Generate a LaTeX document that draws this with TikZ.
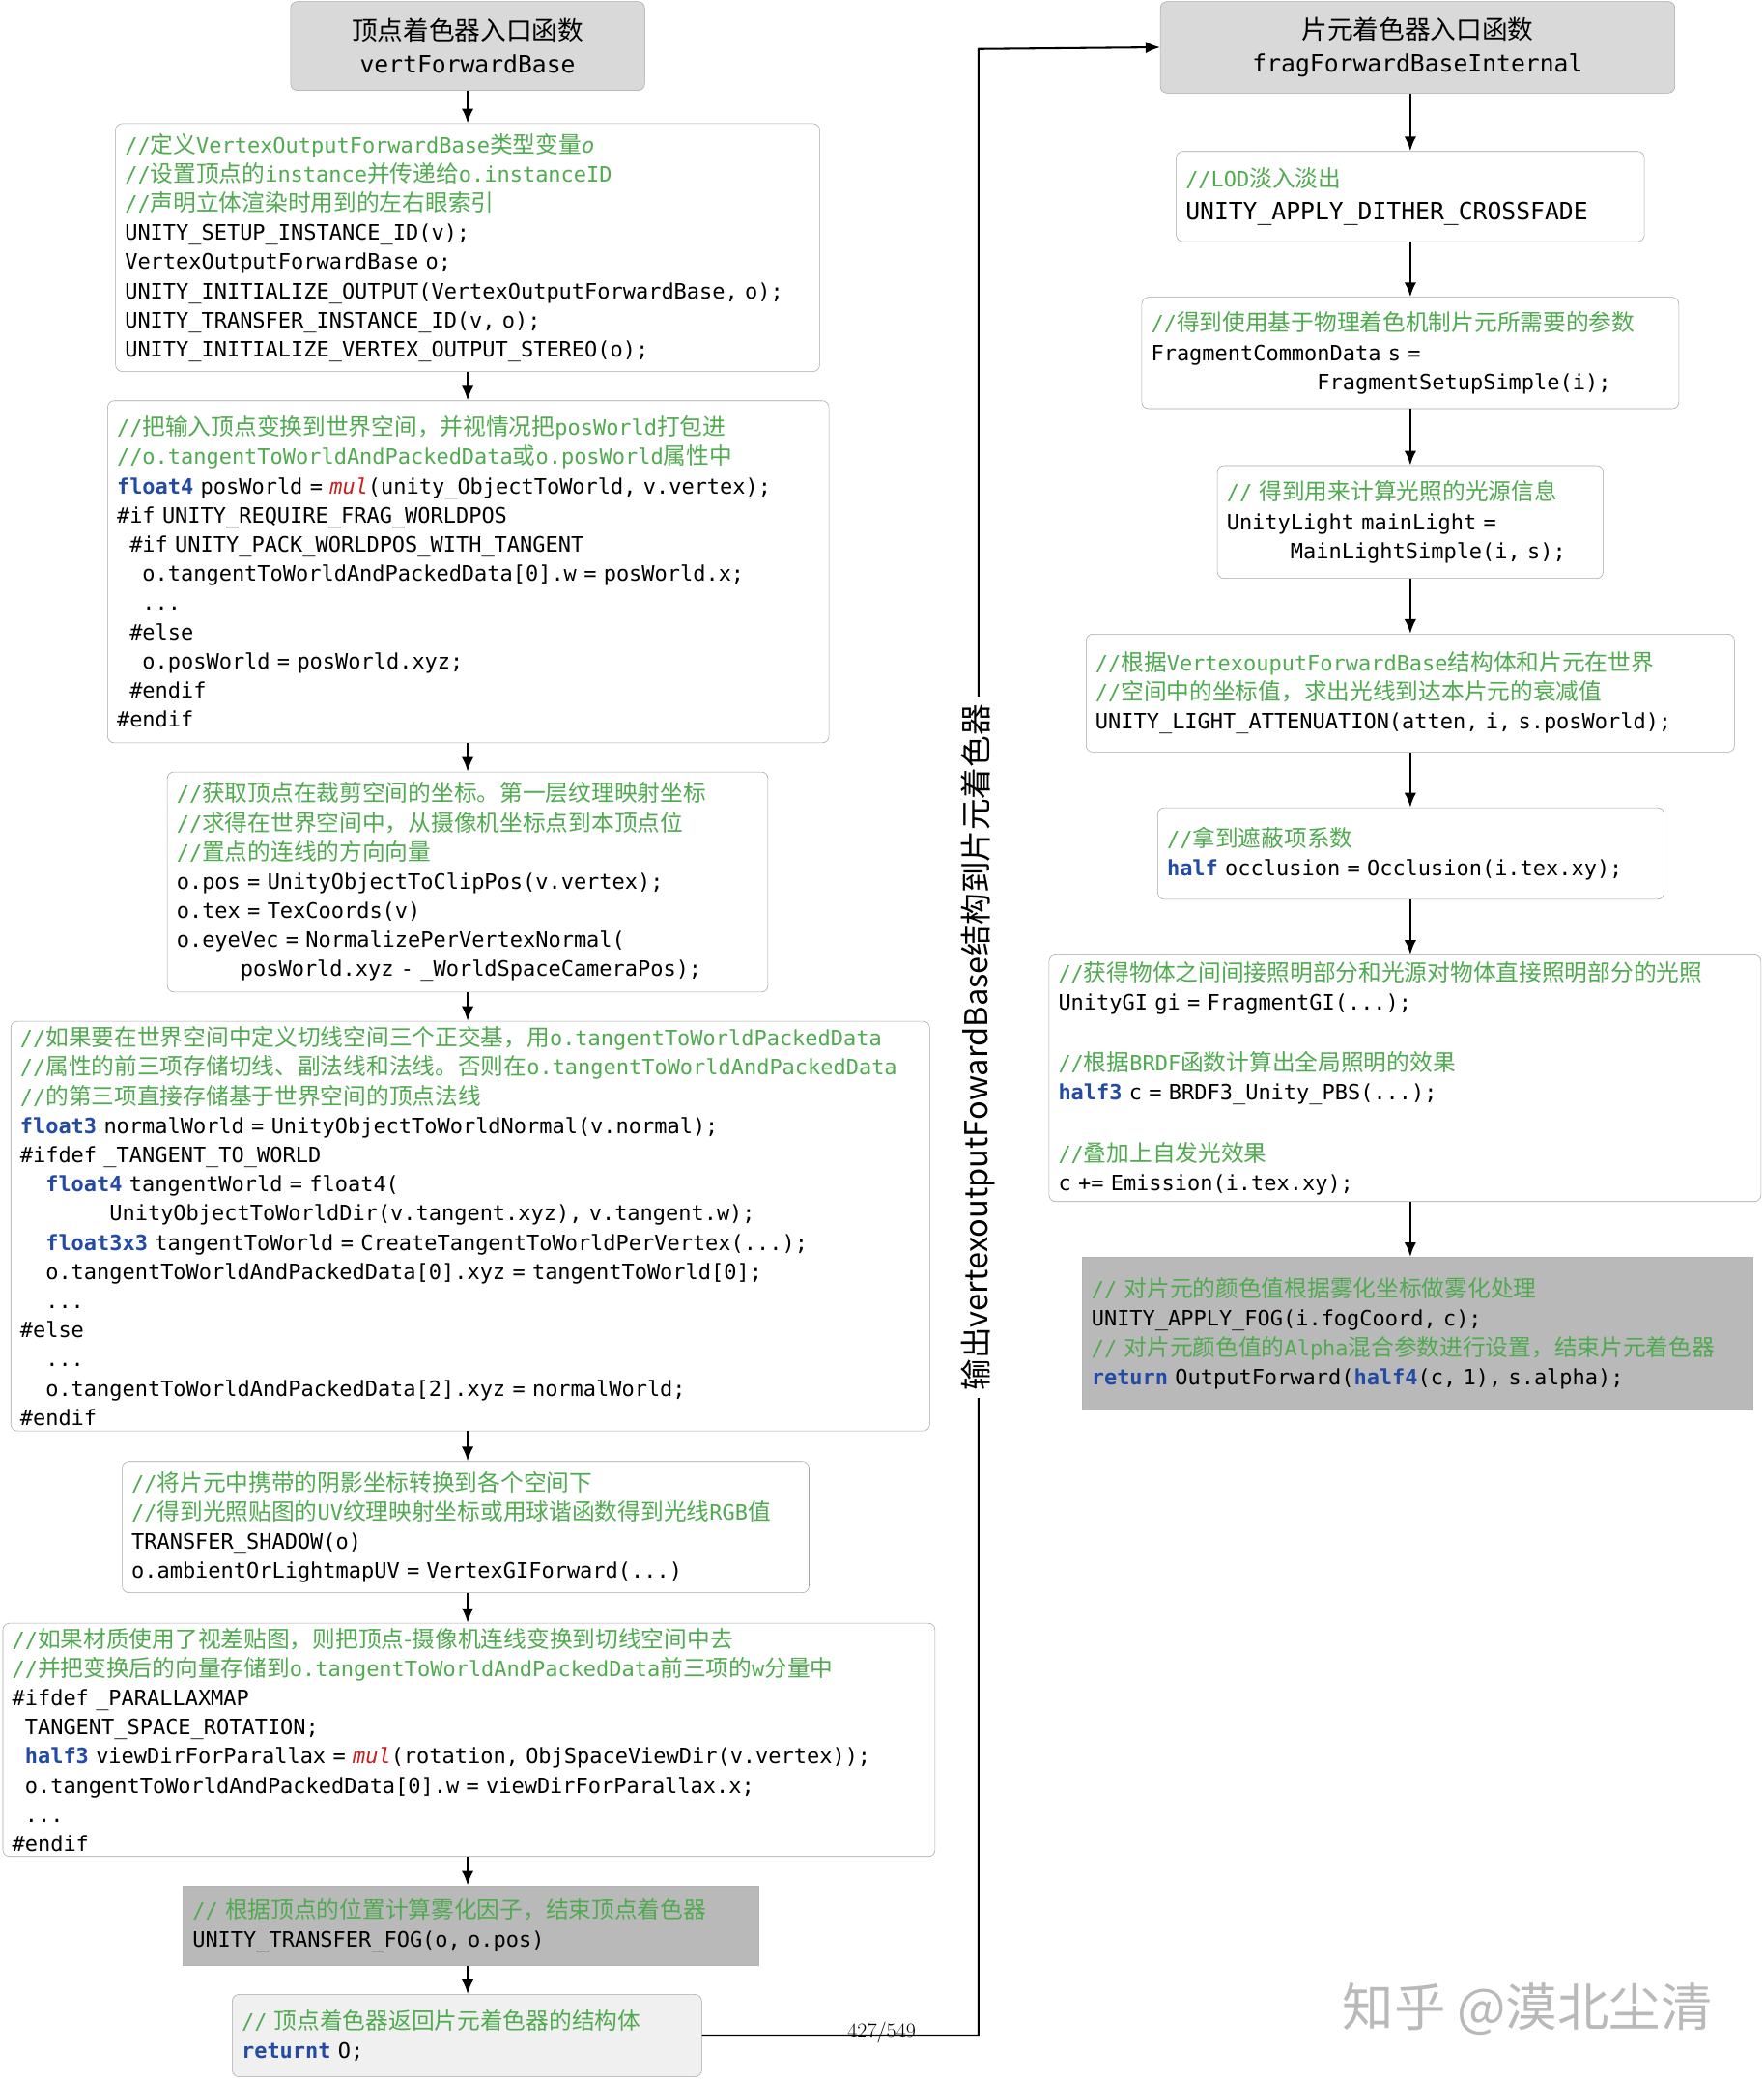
\documentclass[tikz,border=0pt]{standalone}
\usepackage{fontspec}
\setmonofont{DejaVu Sans Mono}
\newfontfamily\cjk[Scale=1.08]{Noto Sans CJK SC}
\usetikzlibrary{arrows.meta, positioning}
\definecolor{cmt}{RGB}{80,170,80}
\definecolor{kwd}{RGB}{35,75,165}
\definecolor{fnred}{RGB}{200,30,30}
\newcommand\zh[1]{{\cjk #1}}
\newcommand\cm[1]{{\color{cmt}#1}}
\newcommand\kw[1]{{\color{kwd}\bfseries #1}}
\newcommand\rd[1]{{\color{fnred}\itshape #1}}
\newcommand\ind[1]{\hspace*{#1\dimexpr 0.602em\relax}}
\tikzset{
  box/.style n args={2}{draw=gray!70, rounded corners=5pt, fill=white, align=left,
    minimum width=#1pt, minimum height=#2pt, text width={\dimexpr #1pt-14pt\relax},
    inner xsep=7pt, inner ysep=0pt, anchor=north west, font=\ttfamily\fontsize{16}{22}\selectfont},
  head/.style={draw=gray!70, rounded corners=5pt, fill=gray!30, align=center, anchor=north west,
    font=\ttfamily\fontsize{18}{25}\selectfont},
  dark/.style={sharp corners, fill=gray!55, draw=gray!60},
  arr/.style={-{Latex[length=11pt,width=9pt]}, line width=1.8pt}
}
\begin{document}
\begin{tikzpicture}[x=1pt,y=-1pt]
\useasboundingbox (0,0) rectangle (1330,1568);
% vertex shader column
\node[head, minimum width=267pt, minimum height=67pt] (t1) at (219,1) {\zh{顶点着色器入口函数}\\vertForwardBase};
\node[box={531}{187}] (b1) at (87,93) {%
\cm{//\zh{定义}VertexOutputForwardBase\zh{类型变量}\textit{o}}\\
\cm{//\zh{设置顶点的}instance\zh{并传递给}o.instanceID}\\
\cm{//\zh{声明立体渲染时用到的左右眼索引}}\\
UNITY\_SETUP\_INSTANCE\_ID(v);\\
VertexOutputForwardBase o;\\
UNITY\_INITIALIZE\_OUTPUT(VertexOutputForwardBase, o);\\
UNITY\_TRANSFER\_INSTANCE\_ID(v, o);\\
UNITY\_INITIALIZE\_VERTEX\_OUTPUT\_STEREO(o);};
\node[box={544}{258}] (b2) at (81,302) {%
\cm{//\zh{把输入顶点变换到世界空间，并视情况把}posWorld\zh{打包进}}\\
\cm{//o.tangentToWorldAndPackedData\zh{或}o.posWorld\zh{属性中}}\\
\kw{float4} posWorld = \rd{mul}(unity\_ObjectToWorld, v.vertex);\\
\#if UNITY\_REQUIRE\_FRAG\_WORLDPOS\\
\ind{1}\#if UNITY\_PACK\_WORLDPOS\_WITH\_TANGENT\\
\ind{2}o.tangentToWorldAndPackedData[0].w = posWorld.x;\\
\ind{2}...\\
\ind{1}\#else\\
\ind{2}o.posWorld = posWorld.xyz;\\
\ind{1}\#endif\\
\#endif};
\node[box={453}{166}] (b3) at (126,582) {%
\cm{//\zh{获取顶点在裁剪空间的坐标。第一层纹理映射坐标}}\\
\cm{//\zh{求得在世界空间中，从摄像机坐标点到本顶点位}}\\
\cm{//\zh{置点的连线的方向向量}}\\
o.pos = UnityObjectToClipPos(v.vertex);\\
o.tex = TexCoords(v)\\
o.eyeVec = NormalizePerVertexNormal(\\
\ind{5}posWorld.xyz - \_WorldSpaceCameraPos);};
\node[box={693}{309}] (b4) at (8,770) {%
\cm{//\zh{如果要在世界空间中定义切线空间三个正交基，用}o.tangentToWorldPackedData}\\
\cm{//\zh{属性的前三项存储切线、副法线和法线。否则在}o.tangentToWorldAndPackedData}\\
\cm{//\zh{的第三项直接存储基于世界空间的顶点法线}}\\
\kw{float3} normalWorld = UnityObjectToWorldNormal(v.normal);\\
\#ifdef \_TANGENT\_TO\_WORLD\\
\ind{2}\kw{float4} tangentWorld = float4(\\
\ind{7}UnityObjectToWorldDir(v.tangent.xyz), v.tangent.w);\\
\ind{2}\kw{float3x3} tangentToWorld = CreateTangentToWorldPerVertex(...);\\
\ind{2}o.tangentToWorldAndPackedData[0].xyz = tangentToWorld[0];\\
\ind{2}...\\
\#else\\
\ind{2}...\\
\ind{2}o.tangentToWorldAndPackedData[2].xyz = normalWorld;\\
\#endif};
\node[box={518}{99}] (b5) at (92,1102) {%
\cm{//\zh{将片元中携带的阴影坐标转换到各个空间下}}\\
\cm{//\zh{得到光照贴图的}UV\zh{纹理映射坐标或用球谐函数得到光线}RGB\zh{值}}\\
TRANSFER\_SHADOW(o)\\
o.ambientOrLightmapUV = VertexGIForward(...)};
\node[box={703}{176}] (b6) at (2,1224) {%
\cm{//\zh{如果材质使用了视差贴图，则把顶点-摄像机连线变换到切线空间中去}}\\
\cm{//\zh{并把变换后的向量存储到}o.tangentToWorldAndPackedData\zh{前三项的}w\zh{分量中}}\\
\#ifdef \_PARALLAXMAP\\
\ind{1}TANGENT\_SPACE\_ROTATION;\\
\ind{1}\kw{half3} viewDirForParallax = \rd{mul}(rotation, ObjSpaceViewDir(v.vertex));\\
\ind{1}o.tangentToWorldAndPackedData[0].w = viewDirForParallax.x;\\
\ind{1}...\\
\#endif};
\node[box={434}{60}, dark] (b7) at (138,1422) {%
\cm{// \zh{根据顶点的位置计算雾化因子，结束顶点着色器}}\\
UNITY\_TRANSFER\_FOG(o, o.pos)};
\node[box={354}{62}, fill=gray!12] (b8) at (175,1504) {%
\cm{// \zh{顶点着色器返回片元着色器的结构体}}\\
\kw{returnt} O;};
% fragment shader column
\node[head, minimum width=388pt, minimum height=69pt] (t2) at (875,1) {\zh{片元着色器入口函数}\\fragForwardBaseInternal};
\node[box={353}{68}, font=\ttfamily\fontsize{18}{25}\selectfont] (r1) at (887,114) {%
\cm{\fontsize{16}{22}\selectfont//LOD\zh{淡入淡出}}\\
UNITY\_APPLY\_DITHER\_CROSSFADE};
\node[box={405}{84}] (r2) at (861,224) {%
\cm{//\zh{得到使用基于物理着色机制片元所需要的参数}}\\
FragmentCommonData s =\\
\ind{13}FragmentSetupSimple(i);};
\node[box={291}{85}] (r3) at (918,351) {%
\cm{// \zh{得到用来计算光照的光源信息}}\\
UnityLight mainLight =\\
\ind{5}MainLightSimple(i, s);};
\node[box={489}{89}] (r4) at (819,478) {%
\cm{//\zh{根据}VertexouputForwardBase\zh{结构体和片元在世界}}\\
\cm{//\zh{空间中的坐标值，求出光线到达本片元的衰减值}}\\
UNITY\_LIGHT\_ATTENUATION(atten, i, s.posWorld);};
\node[box={382}{69}] (r5) at (873,609) {%
\cm{//\zh{拿到遮蔽项系数}}\\
\kw{half} occlusion = Occlusion(i.tex.xy);};
\node[box={537}{186}] (r6) at (791,720) {%
\cm{//\zh{获得物体之间间接照明部分和光源对物体直接照明部分的光照}}\\
UnityGI gi = FragmentGI(...);\\[24pt]
\cm{//\zh{根据}BRDF\zh{函数计算出全局照明的效果}}\\
\kw{half3} c = BRDF3\_Unity\_PBS(...);\\[24pt]
\cm{//\zh{叠加上自发光效果}}\\
c += Emission(i.tex.xy);};
\node[box={506}{115}, dark] (r7) at (816,948) {%
\cm{// \zh{对片元的颜色值根据雾化坐标做雾化处理}}\\
UNITY\_APPLY\_FOG(i.fogCoord, c);\\
\cm{// \zh{对片元颜色值的}Alpha\zh{混合参数进行设置，结束片元着色器}}\\
\kw{return} OutputForward(\kw{half4}(c, 1), s.alpha);};
% connectors
\foreach \a/\b in {t1/b1, b1/b2, b2/b3, b3/b4, b4/b5, b5/b6, b6/b7, b7/b8}
  \draw[arr] (\a.south -| t1.south) -- (\b.north -| t1.south);
\coordinate (turn) at (738,37);
\foreach \a/\b in {t2/r1, r1/r2, r2/r3, r3/r4, r4/r5, r5/r6, r6/r7}
  \draw[arr] (\a.south -| r1.south) -- (\b.north -| r1.south);
\draw[arr, line width=1.5pt] (b8.east) -| (turn) -- (t2.west);
\node[rotate=90, fill=white, inner sep=6pt, font=\cjk\fontsize{22}{26}\selectfont] (lbl) at (738,790) {输出vertexoutputFowardBase结构到片元着色器};
\node[font=\fontsize{16}{20}\selectfont] (page) at (665,1533) {427/549};
\node[text=gray!55, font=\cjk\fontsize{36}{40}\selectfont] (mark) at (1152,1515) {知乎 @漠北尘清};
\end{tikzpicture}
\end{document}
